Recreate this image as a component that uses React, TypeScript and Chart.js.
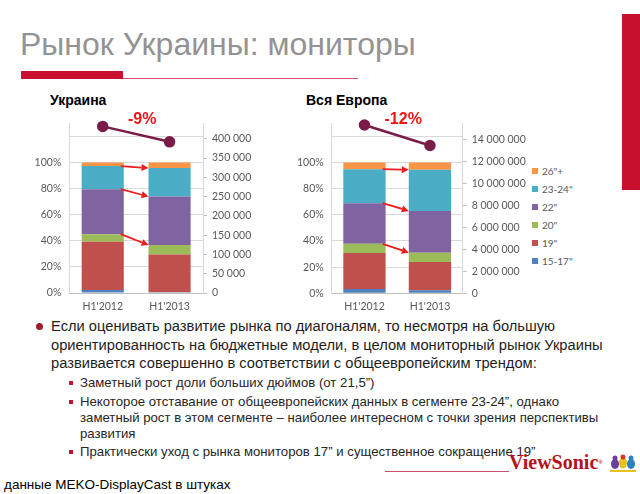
import React, { useEffect, useRef } from 'react';
import { Chart, registerables } from 'chart.js';

Chart.register(...registerables);

// ---------- data ----------
const periods = ["H1'2012", "H1'2013"];
const sizeLabels = ['15-17"', '19"', '20"', '22"', '23-24"', '26"+'];

// shares of units by diagonal (bottom to top), per period
const ukraineShare2012 = [0.023, 0.369, 0.059, 0.344, 0.177, 0.028];
const ukraineShare2013 = [0.005, 0.289, 0.073, 0.372, 0.218, 0.043];
const europeShare2012 = [0.033, 0.276, 0.069, 0.311, 0.26, 0.051];
const europeShare2013 = [0.023, 0.217, 0.071, 0.319, 0.314, 0.056];

// total units (right axis)
const ukraineUnits = [432000, 392000];
const europeUnits = [15350000, 13480000];

// right axis tick settings
const ukraineRightTicks = { max: 440000, step: 50000, lastLabel: 400000 };
const europeRightTicks = { max: 15500000, step: 2000000, lastLabel: 14000000 };
// left axis (share) settings
const shareAxis = { max: 1.3, step: 0.2, lastGrid: 1.2, lastLabel: 1.0 };

// segment tops connected by arrows (index into sizeLabels)
const arrowSegments = [2, 3, 4];

// ---------- style ----------
const sizeColors = ['#4F81BD', '#C0504D', '#9BBB59', '#8064A2', '#4BACC6', '#F79646'];
const LINE_COLOR = '#7A1C48';
const ARROW_COLOR = '#EE1C1C';
const SLIDE_FONT = '"Liberation Sans", Arial, sans-serif';
const TICK_FONT = 'Lato, "Liberation Sans", sans-serif';
const TICK_COLOR = '#595959';
const BRAND_RED = '#C8102E';

function fmtSpace(v: number) {
  return Math.round(v).toString().replace(/\B(?=(\d{3})+(?!\d))/g, ' ');
}

function tickValues(step: number, last: number) {
  const out: { value: number }[] = [];
  const n = Math.round(last / step);
  for (let i = 0; i <= n; i++) out.push({ value: +(i * step).toFixed(6) });
  return out;
}

const arrowPlugin = {
  id: 'segmentArrows',
  afterDatasetsDraw(chart: any) {
    const ctx = chart.ctx;
    ctx.save();
    ctx.strokeStyle = ARROW_COLOR;
    ctx.fillStyle = ARROW_COLOR;
    ctx.lineWidth = 1.8;
    arrowSegments.forEach((k) => {
      const meta = chart.getDatasetMeta(k);
      const a: any = meta.data[0];
      const b: any = meta.data[1];
      const x0 = a.x + a.width / 2 - 3;
      const y0 = a.y;
      const x1 = b.x - b.width / 2;
      const y1 = b.y;
      const ang = Math.atan2(y1 - y0, x1 - x0);
      const head = 7;
      const hw = 3.5;
      const bx = x1 - head * Math.cos(ang);
      const by = y1 - head * Math.sin(ang);
      ctx.beginPath();
      ctx.moveTo(x0, y0);
      ctx.lineTo(bx, by);
      ctx.stroke();
      ctx.beginPath();
      ctx.moveTo(x1, y1);
      ctx.lineTo(bx + hw * Math.sin(ang), by - hw * Math.cos(ang));
      ctx.lineTo(bx - hw * Math.sin(ang), by + hw * Math.cos(ang));
      ctx.closePath();
      ctx.fill();
    });
    ctx.restore();
  },
};

const changePlugin = {
  id: 'changeLabel',
  afterDatasetsDraw(chart: any) {
    const idx = chart.data.datasets.length - 1;
    const meta = chart.getDatasetMeta(idx);
    const units = chart.data.datasets[idx].data as number[];
    const pct = Math.round((units[1] / units[0] - 1) * 100);
    const text = (pct > 0 ? '+' : '') + pct + '%';
    const p0: any = meta.data[0];
    const p1: any = meta.data[1];
    const ctx = chart.ctx;
    ctx.save();
    ctx.font = 'bold 16px ' + SLIDE_FONT;
    ctx.fillStyle = '#F01414';
    ctx.textAlign = 'center';
    ctx.textBaseline = 'middle';
    ctx.fillText(text, (p0.x + p1.x) / 2 + 6, chart.chartArea.top - 4);
    ctx.restore();
  },
};

type ChartProps = {
  share2012: number[];
  share2013: number[];
  units: number[];
  right: { max: number; step: number; lastLabel: number };
  left: number;
  top: number;
  width: number;
  height: number;
  leftW: number;
  rightW: number;
  xH: number;
  padTop: number;
  barPct: number;
};

function MarketChart(p: ChartProps) {
  const ref = useRef<HTMLCanvasElement>(null);
  useEffect(() => {
    if (!ref.current) return;
    const datasets: any[] = sizeLabels.map((label, i) => ({
      type: 'bar',
      label,
      data: [p.share2012[i], p.share2013[i]],
      backgroundColor: sizeColors[i],
      yAxisID: 'y',
      stack: 's',
      order: 2,
      barPercentage: p.barPct,
      categoryPercentage: 1,
      borderWidth: 0,
    }));
    datasets.push({
      type: 'line',
      label: 'units',
      data: p.units,
      yAxisID: 'y2',
      borderColor: LINE_COLOR,
      backgroundColor: LINE_COLOR,
      pointBackgroundColor: LINE_COLOR,
      pointBorderColor: LINE_COLOR,
      borderWidth: 2.5,
      pointRadius: 4.5,
      tension: 0,
      clip: false,
      order: 0,
    });
    const tickFont = { family: TICK_FONT, size: 10.5 };
    const chart = new Chart(ref.current, {
      type: 'bar',
      data: { labels: periods, datasets },
      options: {
        responsive: false,
        animation: false,
        devicePixelRatio: 1,
        layout: { padding: { top: p.padTop, left: 0, right: 0, bottom: 0 } },
        plugins: { legend: { display: false }, tooltip: { enabled: false } },
        scales: {
          x: {
            stacked: true,
            grid: { display: false, drawTicks: false },
            border: { color: '#bfbfbf' },
            ticks: { font: tickFont, color: TICK_COLOR, padding: 7 },
            afterFit: (s: any) => {
              s.height = p.xH;
            },
          },
          y: {
            stacked: true,
            position: 'left',
            min: 0,
            max: shareAxis.max,
            afterBuildTicks: (s: any) => {
              s.ticks = tickValues(shareAxis.step, shareAxis.lastGrid);
            },
            ticks: {
              font: tickFont,
              color: TICK_COLOR,
              padding: 8,
              callback: (v: any) => (v <= shareAxis.lastLabel + 1e-4 ? Math.round(v * 100) + '%' : ''),
            },
            grid: { color: '#d9d9d9', drawTicks: false },
            border: { color: '#d9d9d9' },
            afterFit: (s: any) => {
              s.width = p.leftW;
            },
          },
          y2: {
            position: 'right',
            min: 0,
            max: p.right.max,
            afterBuildTicks: (s: any) => {
              s.ticks = tickValues(p.right.step, p.right.lastLabel);
            },
            ticks: {
              font: tickFont,
              color: TICK_COLOR,
              padding: 5,
              callback: (v: any) => fmtSpace(v),
            },
            grid: { drawOnChartArea: false, drawTicks: true, tickLength: 4, color: '#bfbfbf' },
            border: { color: '#d9d9d9' },
            afterFit: (s: any) => {
              s.width = p.rightW;
            },
          },
        },
      } as any,
      plugins: [arrowPlugin, changePlugin],
    });
    return () => chart.destroy();
  }, []);
  return (
    <canvas
      ref={ref}
      width={p.width}
      height={p.height}
      style={{ position: 'absolute', left: p.left, top: p.top, width: p.width, height: p.height }}
    />
  );
}

const abs = (left: number, top: number, extra: React.CSSProperties = {}): React.CSSProperties => ({
  position: 'absolute',
  left,
  top,
  whiteSpace: 'nowrap',
  ...extra,
});

export default function App() {
  const legendItems = sizeLabels.map((l, i) => ({ label: l, color: sizeColors[i] })).reverse();
  const mainLines = [
    'Если оценивать развитие рынка по диагоналям, то несмотря на большую',
    'ориентированность на бюджетные модели, в целом мониторный рынок Украины',
    'развивается совершенно в соответствии с общеевропейским трендом:',
  ];
  const subItems = [
    { top: 375, lines: ['Заметный рост доли больших дюймов (от 21,5”)'] },
    {
      top: 394,
      lines: [
        'Некоторое отставание от общеевропейских данных в сегменте 23-24”, однако',
        'заметный рост в этом сегменте – наиболее интересном с точки зрения перспективы',
        'развития',
      ],
    },
    { top: 444, lines: ['Практически уход с рынка мониторов 17” и существенное сокращение 19”'] },
  ];
  return (
    <div
      style={{
        position: 'absolute',
        left: 0,
        top: 0,
        width: 640,
        height: 494,
        background: '#fff',
        overflow: 'hidden',
        fontFamily: SLIDE_FONT,
      }}
    >
      {/* title */}
      <div style={abs(20, 28, { fontSize: 32, lineHeight: '33px', color: '#939393' })}>
        Рынок Украины: мониторы
      </div>
      <div style={abs(21, 71, { width: 102, height: 8, background: BRAND_RED })} />
      <div style={abs(123, 78, { width: 235, height: 1, background: '#D4506A' })} />
      <div style={abs(622, 14, { width: 18, height: 176, background: BRAND_RED })} />

      {/* chart titles */}
      <div style={abs(50, 93, { fontSize: 14, lineHeight: '14px', fontWeight: 'bold', color: '#000' })}>
        Украина
      </div>
      <div style={abs(306, 93, { fontSize: 14, lineHeight: '14px', fontWeight: 'bold', color: '#000' })}>
        Вся Европа
      </div>

      <MarketChart
        share2012={ukraineShare2012}
        share2013={ukraineShare2013}
        units={ukraineUnits}
        right={ukraineRightTicks}
        left={30}
        top={105}
        width={230}
        height={212}
        leftW={39.3}
        rightW={57}
        xH={24}
        padTop={18.3}
        barPct={0.63}
      />
      <MarketChart
        share2012={europeShare2012}
        share2013={europeShare2013}
        units={europeUnits}
        right={europeRightTicks}
        left={290}
        top={105}
        width={242}
        height={212}
        leftW={41.7}
        rightW={69.3}
        xH={23.7}
        padTop={18.3}
        barPct={0.646}
      />

      {/* legend */}
      {legendItems.map((it, i) => (
        <div key={it.label} style={abs(532, 165 + i * 18, { height: 12, display: 'flex', alignItems: 'center' })}>
          <div style={{ width: 6, height: 6, background: it.color, marginRight: 4 }} />
          <span style={{ fontFamily: TICK_FONT, fontSize: 10, color: TICK_COLOR }}>{it.label}</span>
        </div>
      ))}

      {/* main bullet */}
      <div style={abs(36, 323, { width: 7, height: 7, borderRadius: '50%', background: '#9E1B32' })} />
      {mainLines.map((l, i) => (
        <div key={i} style={abs(51, 317 + i * 18.7, { fontSize: 14.7, lineHeight: '18.7px', color: '#1e1e1e' })}>
          {l}
        </div>
      ))}
      {subItems.map((s, si) => (
        <React.Fragment key={si}>
          <div style={abs(69, s.top + 6, { width: 4, height: 4, background: BRAND_RED })} />
          {s.lines.map((l, i) => (
            <div key={i} style={abs(80, s.top + i * 16, { fontSize: 13.2, lineHeight: '16px', color: '#262626' })}>
              {l}
            </div>
          ))}
        </React.Fragment>
      ))}

      {/* footer */}
      <div style={abs(4, 477, { fontSize: 13.5, lineHeight: '16px', color: '#000' })}>
        данные MEKO-DisplayCast в штуках
      </div>
      <div style={abs(385, 471, { width: 124, height: 1, background: '#C8506A' })} />
      <div
        style={abs(509, 452, {
          fontFamily: '"Liberation Serif", "DejaVu Serif", serif',
          fontWeight: 'bold',
          fontSize: 20,
          lineHeight: '20px',
          color: '#B5121B',
        })}
      >
        ViewSonic<span style={{ fontSize: 6, verticalAlign: 'top' }}>®</span>
      </div>
      <svg style={abs(610, 453)} width={26} height={20} viewBox="0 0 26 20">
        <rect x="0" y="17" width="26" height="2" fill="#E7C21C" />
        <ellipse cx="5" cy="11" rx="4" ry="5" fill="#6B3FA0" />
        <ellipse cx="13" cy="10" rx="4" ry="5.5" fill="#E7C21C" />
        <ellipse cx="21" cy="11" rx="4" ry="5" fill="#2E7FC1" />
        <circle cx="5" cy="5" r="2.5" fill="#6B3FA0" />
        <circle cx="13" cy="4" r="2.5" fill="#D63B2A" />
        <circle cx="21" cy="5" r="2.5" fill="#2E7FC1" />
      </svg>
    </div>
  );
}
